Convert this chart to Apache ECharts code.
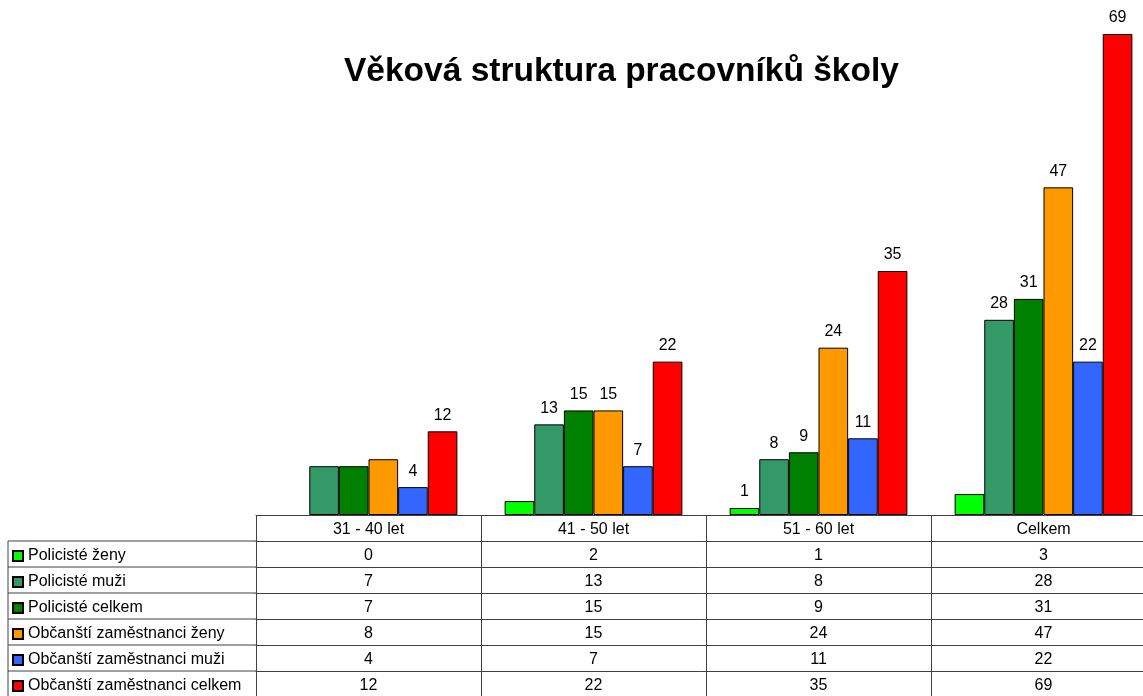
<!DOCTYPE html>
<html>
<head>
<meta charset="utf-8">
<script src="https://cdn.jsdelivr.net/npm/echarts@6/dist/echarts.min.js"></script>
<style>html,body{margin:0;padding:0;background:#fff}#c{width:1143px;height:696px}</style>
</head>
<body>
<div id="c"></div>
<script>
const titleText = 'Věková struktura pracovníků školy';
const categories = ['31 - 40 let', '41 - 50 let', '51 - 60 let', 'Celkem'];
const seriesNames = ['Policisté ženy', 'Policisté muži', 'Policisté celkem', 'Občanští zaměstnanci ženy', 'Občanští zaměstnanci muži', 'Občanští zaměstnanci celkem'];
const policisteZeny = [0, 2, 1, 3];
const policisteMuzi = [7, 13, 8, 28];
const policisteCelkem = [7, 15, 9, 31];
const obcanstiZeny = [8, 15, 24, 47];
const obcanstiMuzi = [4, 7, 11, 22];
const obcanstiCelkem = [12, 22, 35, 69];
const seriesValues = [policisteZeny, policisteMuzi, policisteCelkem, obcanstiZeny, obcanstiMuzi, obcanstiCelkem];
// which value labels appear above the bars in the reference
const labelVisible = [
  [false, false, true, false],
  [false, true, true, true],
  [false, true, true, true],
  [false, true, true, true],
  [true, true, true, true],
  [true, true, true, true]
];
const colors = ['#00FF00', '#339966', '#008000', '#FF9900', '#3366FF', '#FF0000'];

const FONT = 'Liberation Sans, Arial, sans-serif';
const FS = 16;
const GRID_LEFT = 256, GRID_TOP = 27, GRID_W = 900, GRID_H = 488;
const ROW_H = 26;
const LINE = '#404040';

const chart = echarts.init(document.getElementById('c'), null, {renderer: 'canvas'});

const xAxes = [{
  type: 'category', data: categories, position: 'bottom', gridIndex: 0,
  axisLine: {show: true, lineStyle: {color: LINE, width: 1}},
  axisTick: {show: true, length: ROW_H, interval: 0, lineStyle: {color: LINE, width: 1}},
  axisLabel: {interval: 0, margin: 7, fontSize: FS, fontFamily: FONT, color: '#000'}
}];
seriesValues.forEach((vals, i) => {
  xAxes.push({
    type: 'category', data: vals.map(String), position: 'bottom', gridIndex: 0,
    offset: ROW_H * (i + 1),
    axisLine: {show: true, lineStyle: {color: LINE, width: 1}},
    axisTick: {show: true, length: ROW_H, interval: 0, lineStyle: {color: LINE, width: 1}},
    axisLabel: {interval: 0, margin: 7, fontSize: FS, fontFamily: FONT, color: '#000'}
  });
});

const series = seriesValues.map((vals, i) => ({
  name: seriesNames[i], type: 'bar', xAxisIndex: 0, yAxisIndex: 0,
  barGap: '0%', barCategoryGap: '21%',
  itemStyle: {color: colors[i], borderColor: '#000', borderWidth: 1},
  label: {show: false, position: 'top', distance: 8, fontSize: FS, fontFamily: FONT, color: '#000'},
  data: vals.map((v, j) => ({
    value: v,
    label: {show: labelVisible[i][j]},
    itemStyle: v === 0 ? {borderWidth: 0} : undefined
  })),
  animation: false
}));

// legend column lines of the data table
const tableLines = [];
const tableTop = GRID_TOP + GRID_H + ROW_H;
for (let r = 0; r <= seriesNames.length; r++) {
  tableLines.push({type: 'line', shape: {x1: 8, y1: tableTop + r * ROW_H, x2: GRID_LEFT, y2: tableTop + r * ROW_H}, style: {stroke: LINE, lineWidth: 1}});
}
tableLines.push({type: 'line', shape: {x1: 8, y1: tableTop, x2: 8, y2: tableTop + seriesNames.length * ROW_H}, style: {stroke: LINE, lineWidth: 1}});

chart.setOption({
  animation: false,
  backgroundColor: '#fff',
  title: {
    text: titleText, left: 344, top: 55, padding: 0,
    textStyle: {fontSize: 33.5, fontWeight: 'bold', fontFamily: FONT, color: '#000'}
  },
  legend: {
    orient: 'vertical', left: 12, top: tableTop + 7, padding: 0,
    itemWidth: 10, itemHeight: 10, itemGap: 10, icon: 'rect',
    textStyle: {fontSize: FS, fontFamily: FONT, color: '#000', lineHeight: 16},
    data: seriesNames, selectedMode: false
  },
  grid: {left: GRID_LEFT, top: GRID_TOP, width: GRID_W, height: GRID_H, containLabel: false, outerBoundsMode: 'none'},
  xAxis: xAxes,
  yAxis: {type: 'value', min: 0, max: 70, show: false},
  series: series,
  graphic: tableLines
});
</script>
</body>
</html>
